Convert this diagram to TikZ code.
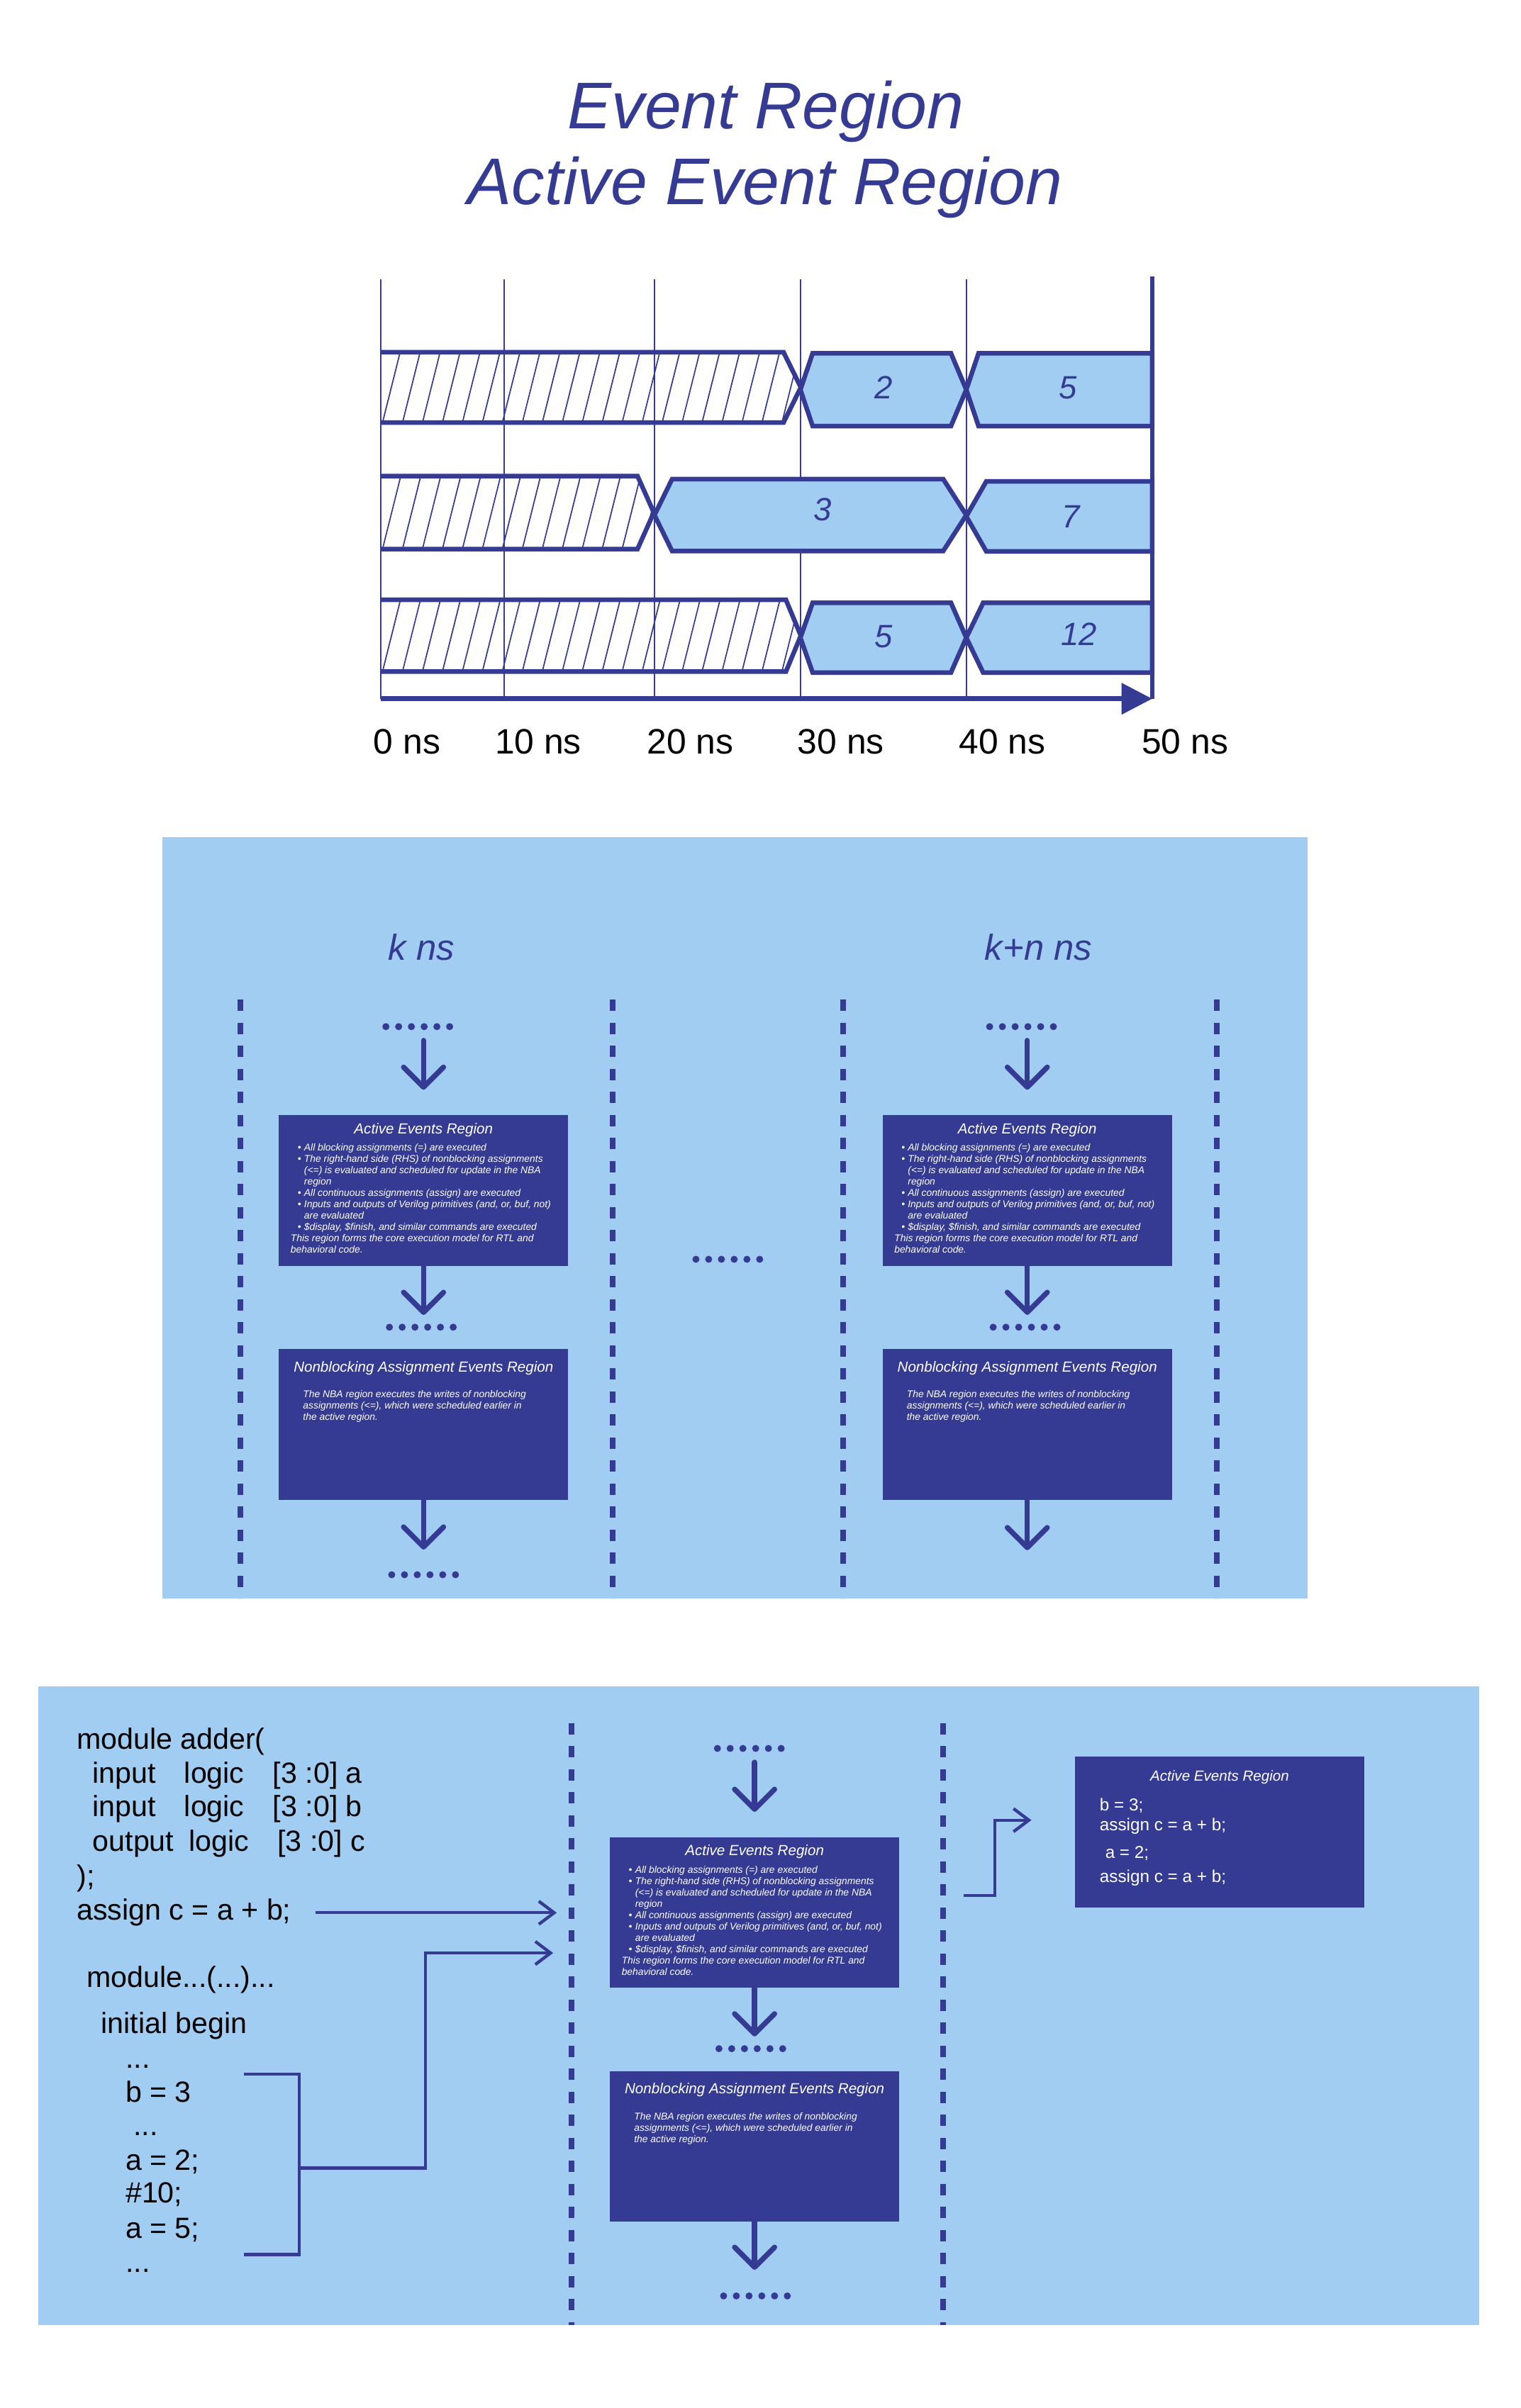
\documentclass[tikz,border=0pt]{standalone}
\usepackage{fontspec}
\setmainfont{Liberation Sans}
\usetikzlibrary{arrows.meta,positioning,calc}

\definecolor{navy}{HTML}{353B92}
\definecolor{skyblue}{HTML}{A1CDF3}

\newcommand{\bul}{\makebox[4.2pt][l]{\textbullet}}
\newcommand{\activebody}{%
\hspace*{4.6pt}\bul All blocking assignments (=) are executed\\
\hspace*{4.6pt}\bul The right-hand side (RHS) of nonblocking assignments\\
\hspace*{8.8pt}(<=) is evaluated and scheduled for update in the NBA\\
\hspace*{8.8pt}region\\
\hspace*{4.6pt}\bul All continuous assignments (assign) are executed\\
\hspace*{4.6pt}\bul Inputs and outputs of Verilog primitives (and, or, buf, not)\\
\hspace*{8.8pt}are evaluated\\
\hspace*{4.6pt}\bul \$display, \$finish, and similar commands are executed\\
This region forms the core execution model for RTL and\\
behavioral code.}
\newcommand{\nbabody}{%
The NBA region executes the writes of nonblocking\\
assignments (<=), which were scheduled earlier in\\
the active region.}

\tikzset{
  title/.style={anchor=base, inner sep=0, text=navy, font=\fontsize{43}{43}\selectfont\itshape},
  head/.style={anchor=base, inner sep=0, text=navy, font=\fontsize{23.5}{23.5}\selectfont\itshape},
  val/.style={inner sep=0, text=navy, font=\fontsize{21}{21}\selectfont\itshape},
  tick/.style={anchor=base west, inner sep=0, font=\fontsize{23}{23}\selectfont},
  gridline/.style={draw=navy, line width=1pt},
  bus/.style={draw=navy, line width=3pt},
  hatch/.style={draw=navy, line width=0.8pt},
  sepline/.style={draw=navy, line width=3.7pt, dash pattern=on 7.4pt off 7.6pt},
  flow/.style={draw=navy, line width=3.4pt, line cap=round, -{Straight Barb[length=13pt,width=26pt,round]}},
  link/.style={draw=navy, line width=2pt, -{Straight Barb[length=10pt,width=15pt]}},
  evbox/.style={fill=navy, anchor=north west, inner sep=0, minimum width=188.4pt, minimum height=98pt},
  boxtitle/.style={anchor=base, inner sep=0, text=white, font=\fontsize{9.5}{11}\selectfont\itshape},
  boxbody/.style={anchor=base west, inner sep=0, align=left, text=white, font=\fontsize{6.4}{7.39}\selectfont\itshape},
  boxcode/.style={anchor=base west, inner sep=0, text=white, font=\fontsize{11.2}{13}\selectfont},
  code/.style={anchor=base west, inner sep=0, font=\fontsize{19}{22}\selectfont},
  dotrow/.style={inner sep=0, minimum width=47pt, minimum height=5pt,
    path picture={\foreach \k in {0,...,5}
      \fill[navy] ([xshift={2.5pt+8.3pt*\k}]path picture bounding box.west) circle (2.3pt);}},
}

\begin{document}
\begin{tikzpicture}[x=1pt,y=-1pt]
\fill[white] (0,0) rectangle (990,1568);
\useasboundingbox (0,0) rectangle (990,1568);

% Titles
\node[title] (ttlA) at (498.5,84) {Event Region};
\node[title] (ttlB) at (498,133) {Active Event Region};

% Timing grid
\foreach \x in {248,328,426,521,629} \draw[gridline] (\x,182) -- (\x,455);

% Unknown (hatched) values
\foreach \yt/\yb/\xe/\xp in {229.3/275.2/510/521.3, 310/357.5/415/425.6, 390.6/437.3/511.6/521.3}{
  \begin{scope}
    \clip (248,\yt) -- (\xe,\yt) -- (\xp,{(\yt+\yb)/2}) -- (\xe,\yb) -- (248,\yb) -- cycle;
    \foreach \h in {236,249,...,536} \draw[hatch] (\h,\yb) -- ({\h+0.25*(\yb-\yt)},\yt);
  \end{scope}
  \draw[bus] (248,\yt) -- (\xe,\yt) -- (\xp,{(\yt+\yb)/2}) -- (\xe,\yb) -- (248,\yb);
}

% Known values
\foreach \pa/\pb/\pc/\pd/\ta/\tb in {521/529/619/629/230/277.5, 629/637/750/750/230/277.5,
    426/437.5/614/629/312/358.8, 629/642/750/750/313.5/359,
    521/529/619/629/392.5/438, 629/640/750/750/392.5/438}
  \filldraw[bus, fill=skyblue] (\pa,{(\ta+\tb)/2}) -- (\pb,\ta) -- (\pc,\ta) -- (\pd,{(\ta+\tb)/2})
    -- (\pc,\tb) -- (\pb,\tb) -- cycle;

\node[val] (v1) at (575.3,252.5) {2};
\node[val] (v2) at (695.4,252.5) {5};
\node[val] (v3) at (535.4,332) {3};
\node[val] (v4) at (697.2,336.2) {7};
\node[val] (v5) at (575.3,414.6) {5};
\node[val] (v6) at (702.3,413.1) {12};

% Time axis
\draw[bus] (750,180) -- (750,455);
\draw[bus, -{Triangle[length=20pt,width=20pt]}] (248,455) -- (750,455);
\foreach \n/\x/\s in {0/243/0 ns, 1/322/10 ns, 2/421/20 ns, 3/519/30 ns, 4/624/40 ns, 5/743/50 ns}
  \node[tick] (t\n) at (\x,491) {\s};

% Two time steps
\fill[skyblue] (105.7,545.3) rectangle (851,1041);
\node[head] (kA) at (274.3,625) {k ns};
\node[head] (kB) at (676,625) {k+n ns};
\foreach \x in {156.5,399,549,792} \draw[sepline] (\x,651) -- (\x,1041);

\foreach \c/\dx in {L/0,R/393}{
  \node[dotrow] (top\c) at ({272.2+\dx},668.5) {};
  \node[evbox] (act\c) at ({181.3+\dx},726) {};
  \node[boxtitle] (actT\c) at ($(act\c.north)+(0,12.3)$) {Active Events Region};
  \node[boxbody] (actB\c) at ($(act\c.north west)+(7.7,90)$) {\activebody};
  \node[dotrow] (mid\c) at ({274.5+\dx},864.2) {};
  \node[evbox] (nba\c) at ({181.3+\dx},878.4) {};
  \node[boxtitle] (nbaT\c) at ($(nba\c.north)+(0,15.1)$) {Nonblocking Assignment Events Region};
  \node[boxbody] (nbaB\c) at ($(nba\c.north west)+(15.8,46.6)$) {\nbabody};
  \draw[flow, shorten <=9pt, shorten >=16.4pt] (top\c.center -| act\c.north) -- (act\c.north);
  \draw[flow, shorten >=8pt] (act\c.south) -- (act\c.south |- mid\c.center);
}
\node[dotrow] (botL) at (276,1025.4) {};
\draw[flow, shorten >=16.4pt] (nbaL.south) -- (nbaL.south |- botL.center);
\coordinate (endR) at ($(nbaR.south)+(0,32.6)$);
\draw[flow] (nbaR.south) -- (endR);
\node[dotrow] (gap) at (474,820) {};

% Code example
\fill[skyblue] (25,1098) rectangle (963,1514);
\foreach \x in {372,614} \draw[sepline] (\x,1122) -- (\x,1514);

\foreach \n/\x/\yy/\s in {1/49.8/1139/{module adder(},
    2/60.2/1161/{\makebox[59.6pt][l]{input}\makebox[57.7pt][l]{logic}[3 :0] a},
    3/60.2/1183/{\makebox[59.6pt][l]{input}\makebox[57.7pt][l]{logic}[3 :0] b},
    4/60.2/1205.3/{\makebox[62.6pt][l]{output}\makebox[57.7pt][l]{logic}[3 :0] c},
    5/49.8/1227.8/{);}, 6/49.8/1250.4/{assign c = a + b;},
    7/56.2/1294.2/{module...(...)...}, 8/65.6/1324.2/{initial begin},
    9/81.6/1346.7/{...}, 10/81.6/1368.8/{b = 3}, 11/86.8/1390.6/{...},
    12/81.6/1413.1/{a = 2;}, 13/81.6/1434.4/{\#10;}, 14/81.6/1457.4/{a = 5;},
    15/81.6/1479.4/{...}}
  \node[code] (c\n) at (\x,\yy) {\s};

\node[dotrow] (topC) at (488,1138.5) {};
\node[evbox] (actC) at (396.8,1196) {};
\node[boxtitle] (actTC) at ($(actC.north)+(0,12.3)$) {Active Events Region};
\node[boxbody] (actBC) at ($(actC.north west)+(7.7,90)$) {\activebody};
\node[dotrow] (midC) at (489,1334) {};
\node[evbox] (nbaC) at (396.8,1348.3) {};
\node[boxtitle] (nbaTC) at ($(nbaC.north)+(0,15.1)$) {Nonblocking Assignment Events Region};
\node[boxbody] (nbaBC) at ($(nbaC.north west)+(15.8,46.6)$) {\nbabody};
\node[dotrow] (botC) at (492,1495) {};
\draw[flow, shorten <=9pt, shorten >=16.2pt] (topC.center -| actC.north) -- (actC.north);
\draw[flow, shorten >=8pt] (actC.south) -- (actC.south |- midC.center);
\draw[flow, shorten >=17pt] (nbaC.south) -- (nbaC.south |- botC.center);

% Links from the code
\coordinate (sepA) at (372,1122);
\draw[link] ([xshift=16pt]c6.east) -- ([xshift=-9.6pt]c6.east -| sepA);
\coordinate (brT) at (158.8,1350.5);
\coordinate (brB) at (158.8,1468.1);
\coordinate (brM) at (194.7,1411.8);
\coordinate (inB) at (360.1,1271.7);
\draw[navy, line width=2pt] (brT) -- ++(35.9,0) |- (brB);
\draw[link] (brM) -- ++(82.4,0) |- (inB);

% Resulting active region
\node[evbox, minimum width=188.2pt] (run) at (699.6,1143.7) {};
\node[boxtitle] (runT) at ($(run.north)+(0,16)$) {Active Events Region};
\node[boxcode] (run1) at (715.7,1179) {b = 3;};
\node[boxcode] (run2) at (715.7,1192.1) {assign c = a + b;};
\node[boxcode] (run3) at (719.3,1209.8) {a = 2;};
\node[boxcode] (run4) at (715.7,1225.6) {assign c = a + b;};
\coordinate (outR) at (627.1,1234.4);
\coordinate (inR) at (671.4,1185.2);
\draw[link] (outR) -- ++(20.6,0) |- (inR);
\end{tikzpicture}
\end{document}
